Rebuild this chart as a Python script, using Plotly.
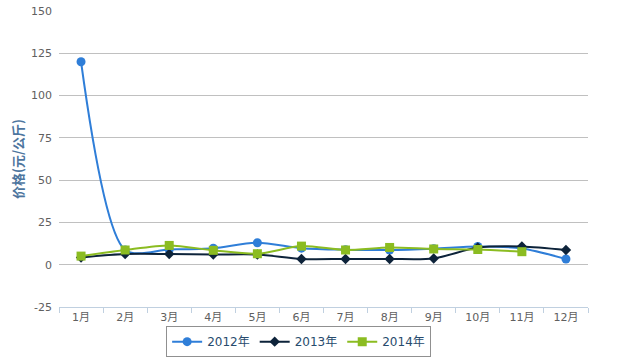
import plotly.graph_objects as go

months = ["1月", "2月", "3月", "4月", "5月", "6月", "7月", "8月", "9月", "10月", "11月", "12月"]
s2012 = [120, 8.7, 9.0, 9.8, 13.0, 9.8, 8.9, 8.7, 9.5, 10.8, 9.6, 3.4]
s2013 = [4.3, 6.3, 6.3, 6.0, 6.0, 3.4, 3.4, 3.4, 3.7, 10.2, 10.8, 8.7]
s2014 = [5.1, 8.7, 11.4, 8.5, 6.5, 11.0, 8.7, 10.2, 9.3, 9.0, 7.7, None]
y_ticks = [-25, 0, 25, 50, 75, 100, 125, 150]
y_labels = ["-25", "0", "25", "50", "75", "100", "125", "150"]

font_fam = "DejaVu Sans, Noto Sans CJK SC, sans-serif"

fig = go.Figure()
series = [
    ("2012年", s2012, "#2f7ed8", "circle", 9),
    ("2013年", s2013, "#0d233a", "diamond", 8),
    ("2014年", s2014, "#8bbc21", "square", 9),
]
for name, vals, color, sym, size in series:
    fig.add_trace(go.Scatter(
        x=months, y=vals, name=name, mode="lines+markers",
        line=dict(color=color, width=2, shape="spline", smoothing=0.8),
        marker=dict(color=color, symbol=sym, size=size),
        connectgaps=False,
    ))

fig.update_layout(
    width=637, height=357,
    margin=dict(l=59, r=49, t=11, b=50, autoexpand=False),
    paper_bgcolor="white", plot_bgcolor="white",
    font=dict(family=font_fam, size=11, color="#606060"),
    showlegend=True,
    legend=dict(
        orientation="h", x=0.453, xanchor="center", y=-0.117, yanchor="middle",
        bordercolor="#909090", borderwidth=1,
        font=dict(size=12, color="#274b6d", family=font_fam),
        itemwidth=30, tracegroupgap=0,
    ),
    xaxis=dict(
        type="category", range=[-0.5, 11.5],
        showline=True, linecolor="#C0D0E0", linewidth=1,
        ticks="outside", tickson="boundaries", ticklen=5, tickcolor="#C0D0E0",
        showgrid=False, zeroline=False, automargin=False,
        tickfont=dict(size=11, color="#606060"),
    ),
    yaxis=dict(
        range=[-25.001, 150.001], tickmode="array", tickvals=y_ticks, ticktext=y_labels,
        showgrid=True, gridcolor="#C0C0C0", gridwidth=1,
        zeroline=True, zerolinecolor="#C0C0C0", zerolinewidth=1,
        showline=False, ticks="", ticklabelstandoff=6, automargin=False,
        tickfont=dict(size=11, color="#606060"),
        title=dict(text="<b>价格(元/公斤)</b>", font=dict(size=13, color="#4d759e", family="Noto Sans CJK SC, DejaVu Sans"), standoff=4),
    ),
)

# remove the browser's default 8px body margin so the figure sits at the page origin
fig.write_html(
    "out.html",
    config={"displayModeBar": False},
    post_script="document.body.style.margin='0';document.body.style.overflow='hidden';",
)
